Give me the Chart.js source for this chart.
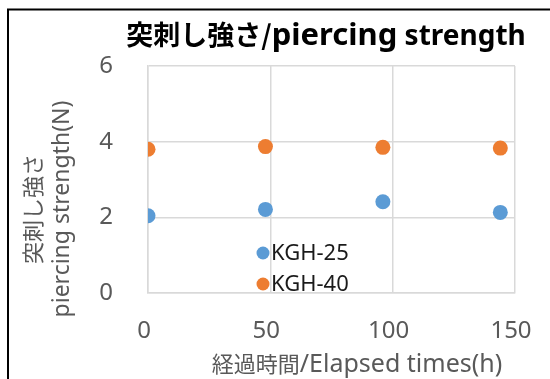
<!DOCTYPE html>
<html lang="ja">
<head>
<meta charset="UTF-8">
<title>突刺し強さ / piercing strength</title>
<script src="https://cdn.jsdelivr.net/npm/chart.js"></script>
<style>
  body { margin: 0; background: #fff; }
  canvas { display: block; }
</style>
</head>
<body>
<canvas id="pierceChart" width="550" height="379"></canvas>
<script>
// elapsed time (h) and measured piercing strength (N)
const hours = [0, 48, 96, 144];
const kgh25 = [2.04, 2.21, 2.41, 2.13];
const kgh40 = [3.80, 3.87, 3.85, 3.83];
const seriesNames = ['KGH-25', 'KGH-40'];
const seriesColors = ['#5b9bd5', '#ed7d31'];
const xTicks = [0, 50, 100, 150];
const yTicks = [0, 2, 4, 6];

const CJK = '"Noto Sans CJK JP", sans-serif';
const LAT = '"Noto Sans", "Noto Sans CJK JP", sans-serif';
const GRID = '#d9d9d9';
const GREY = '#595959';

const toPoints = ys => hours.map((h, i) => ({ x: h, y: ys[i] }));

// several text runs with their own fonts, centred on cx along one baseline
function drawRuns(ctx, runs, cx, y) {
  let total = 0;
  runs.forEach(r => {
    ctx.font = r.font;
    r.w = ctx.measureText(r.text).width;
    total += r.w;
  });
  let x = cx - total / 2;
  ctx.textAlign = 'left';
  ctx.textBaseline = 'alphabetic';
  runs.forEach(r => {
    ctx.font = r.font;
    ctx.fillText(r.text, x, y);
    x += r.w;
  });
}

const decorations = {
  id: 'decorations',
  beforeDraw(chart) {
    const ctx = chart.ctx;
    ctx.save();
    ctx.fillStyle = '#fff';
    ctx.fillRect(0, 0, chart.width, chart.height);
    // outer frame (left + top edges)
    ctx.strokeStyle = '#000';
    ctx.lineWidth = 2;
    ctx.beginPath();
    ctx.moveTo(8, chart.height);
    ctx.lineTo(8, 9.5);
    ctx.lineTo(chart.width, 9.5);
    ctx.stroke();
    ctx.restore();
  },
  afterDraw(chart) {
    const ctx = chart.ctx;
    ctx.save();

    // chart title
    ctx.fillStyle = '#000';
    drawRuns(ctx, [
      { text: '突刺し強さ/', font: 'bold 27px ' + CJK },
      { text: 'piercing', font: 'bold 31px ' + LAT },
      { text: ' strength', font: 'bold 28px ' + LAT }
    ], 326, 45);

    // y axis title, two rotated lines
    ctx.fillStyle = GREY;
    ctx.save();
    ctx.translate(41, 209);
    ctx.rotate(-Math.PI / 2);
    drawRuns(ctx, [{ text: '突刺し強さ', font: '22px ' + CJK }], 0, 0);
    ctx.restore();
    ctx.save();
    ctx.translate(69, 209);
    ctx.rotate(-Math.PI / 2);
    drawRuns(ctx, [{ text: 'piercing strength(N)', font: '23px ' + LAT }], 0, 0);
    ctx.restore();

    // x axis title
    drawRuns(ctx, [
      { text: '経過時間', font: '22px ' + CJK },
      { text: '/Elapsed times(h)', font: '25px ' + LAT }
    ], 357, 372);

    // legend inside the plot
    const legendY = [253, 284];
    chart.data.datasets.forEach((ds, i) => {
      ctx.fillStyle = ds.backgroundColor;
      ctx.beginPath();
      ctx.arc(263, legendY[i], 6.5, 0, Math.PI * 2);
      ctx.fill();
      ctx.fillStyle = '#1a1a1a';
      ctx.font = '22px ' + LAT;
      ctx.textAlign = 'left';
      ctx.textBaseline = 'middle';
      ctx.fillText(ds.label, 271, legendY[i] + 1);
    });

    ctx.restore();
  }
};

const axisGrid = { color: GRID, lineWidth: 1.5, drawTicks: false };
const axisBorder = { color: GRID, width: 1.5 };

new Chart(document.getElementById('pierceChart'), {
  type: 'scatter',
  data: {
    datasets: [
      {
        label: seriesNames[0],
        data: toPoints(kgh25),
        backgroundColor: seriesColors[0],
        borderColor: seriesColors[0],
        pointRadius: 7.5,
        pointBorderWidth: 0
      },
      {
        label: seriesNames[1],
        data: toPoints(kgh40),
        backgroundColor: seriesColors[1],
        borderColor: seriesColors[1],
        pointRadius: 7.5,
        pointBorderWidth: 0
      }
    ]
  },
  options: {
    responsive: false,
    animation: false,
    layout: { padding: { top: 66, right: 35, bottom: 0, left: 0 } },
    plugins: {
      legend: { display: false },
      tooltip: { enabled: false }
    },
    scales: {
      x: {
        type: 'linear',
        min: 0,
        max: 150,
        afterFit: s => {
          s.height = 86;
          // the label overhang already fits inside the right padding
          s.paddingLeft = 0;
          s.paddingRight = 0;
        },
        afterBuildTicks: s => { s.ticks = xTicks.map(v => ({ value: v })); },
        ticks: { font: { family: LAT, size: 24 }, color: GREY, padding: 24, labelOffset: -4 },
        grid: axisGrid,
        border: axisBorder
      },
      y: {
        min: 0,
        max: 6,
        afterFit: s => { s.width = 148; },
        afterBuildTicks: s => { s.ticks = yTicks.map(v => ({ value: v })); },
        ticks: { font: { family: LAT, size: 24 }, color: GREY, padding: 35 },
        grid: axisGrid,
        border: axisBorder
      }
    }
  },
  plugins: [decorations]
});
</script>
</body>
</html>
